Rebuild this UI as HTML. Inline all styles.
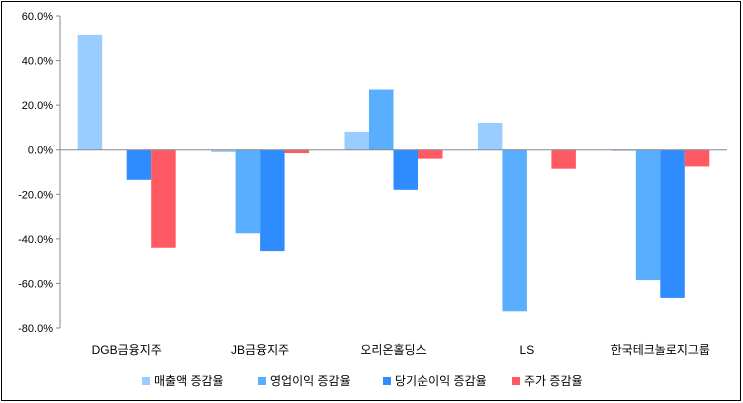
<!DOCTYPE html>
<html><head><meta charset="utf-8"><style>
body{margin:0;background:#fff;}
svg{display:block;font-family:"Liberation Sans","Noto Sans CJK KR",sans-serif;}
</style></head><body>
<svg id="chart" width="743" height="403">
<rect x="1.5" y="1.5" width="739" height="399" fill="#fff" stroke="#000" stroke-width="1"/>
<g id="plot"></g>
</svg>
<script>
const categories=["DGB금융지주","JB금융지주","오리온홀딩스","LS","한국테크놀로지그룹"];
const seriesNames=["매출액 증감율","영업이익 증감율","당기순이익 증감율","주가 증감율"];
const sales=[51.5,-1,8,12,-0.5];
const opProfit=[0,-37.5,27,-72.5,-58.5];
const netProfit=[-13.5,-45.5,-18,0,-66.5];
const price=[-44,-1.5,-4,-8.5,-7.5];
const ticks=[60,40,20,0,-20,-40,-60,-80];
const tickLabels=["60.0%","40.0%","20.0%","0.0%","-20.0%","-40.0%","-60.0%","-80.0%"];
const colors=["#99CCFF","#5AAEFF","#2F8CFF","#FF5A64"];
const series=[sales,opProfit,netProfit,price];
const NS="http://www.w3.org/2000/svg";
const g=document.getElementById('plot');
const x0=60,x1=727,yTop=16,yBot=328,vMax=60,vMin=-80;
const y=v=>yTop+(vMax-v)/(vMax-vMin)*(yBot-yTop);
const bw=(x1-x0)/categories.length;
const barW=24.5,pad=(bw-barW*4)/2;
function el(t,a){const e=document.createElementNS(NS,t);for(const k in a)e.setAttribute(k,a[k]);g.appendChild(e);return e;}
categories.forEach((c,i)=>{
  series.forEach((s,j)=>{
    const v=s[i];const ya=y(Math.max(v,0)),yb=y(Math.min(v,0));
    const r=el('rect',{x:x0+i*bw+pad+j*barW,y:ya,width:barW,height:Math.max(yb-ya,0),fill:colors[j]});
    
    
  });
  const t=el('text',{x:x0+i*bw+bw/2,y:354,'font-size':12,'text-anchor':'middle',fill:'#000'});
  t.textContent=c;
  
  
});
const ax=el('line',{x1:x0,y1:yTop,x2:x0,y2:yBot,stroke:'#888'});


const zl=el('line',{x1:x0,y1:y(0),x2:x1,y2:y(0),stroke:'#888'});


ticks.forEach((v,i)=>{
  el('line',{x1:x0-4,y1:y(v),x2:x0,y2:y(v),stroke:'#888'});
  const t=el('text',{x:x0-7,y:y(v)+4,'font-size':11,'text-anchor':'end',fill:'#000'});
  t.textContent=tickLabels[i];
  
  
});
const lx=[142,258,383,512];
seriesNames.forEach((n,j)=>{
  const r=el('rect',{x:lx[j],y:377,width:8,height:8,fill:colors[j]});
  
  
  const t=el('text',{x:lx[j]+12,y:385,'font-size':12,fill:'#000'});
  t.textContent=n;
  
  
});
</script>
</body></html>
